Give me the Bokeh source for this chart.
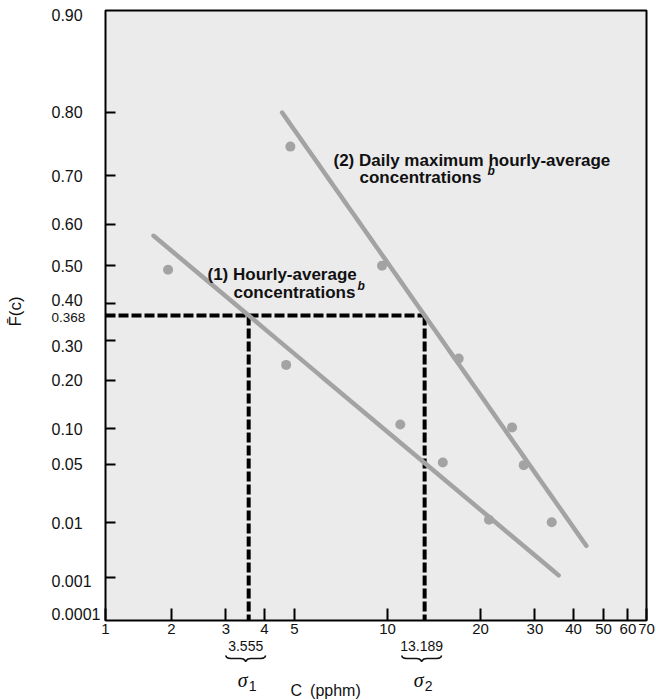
import numpy as np
from bokeh.plotting import figure
from bokeh.models import (Range1d, FixedTicker, Label, PolyAnnotation,
                          BoxAnnotation, LogAxis, LinearAxis)
from bokeh.embed import file_html
from bokeh.resources import INLINE

# Observed exceedance probabilities F̄(c) against concentration c (pphm)
hourly_c = [1.95, 4.7, 11.0, 15.1, 21.3]
hourly_f = [0.49, 0.237, 0.107, 0.052, 0.011]
daily_c = [4.85, 9.6, 17.0, 25.3, 27.6, 34.0]
daily_f = [0.75, 0.50, 0.253, 0.102, 0.049, 0.0101]

# Fitted Weibull distributions  F̄(c) = exp(-(c / sigma) ** k)
sigma = [3.555, 13.189]
sigma_text = ["3.555", "13.189"]
sigma_sub = ["1", "2"]
shape_k = [0.83, 1.41]
fit_from = [1.75, 4.56]
fit_to = [35.8, 44.0]

x_tick_values = [2, 3, 4, 5, 10, 20, 30, 40, 50, 60]
y_tick_labels = ["0.90", "0.80", "0.70", "0.60", "0.50", "0.40", "0.368",
                 "0.30", "0.20", "0.10", "0.05", "0.01", "0.001", "0.0001"]


def paper(f):
    """Weibull probability paper: ln(-ln F̄)."""
    return np.log(-np.log(np.asarray(f, dtype=float)))


# ---- page geometry ----------------------------------------------------------
W, H = 656, 700
X_LO, X_HI = 1.2232, 68.89          # box ends, labelled "1" and "70"
Y_TOP, Y_BOT = -2.25, 2.25          # F̄ = 0.90 along the top of the box
BOX_L, BOX_R, BOX_T, BOX_B = 105, 646, 10, 620
PX_PER_DEC = (BOX_R - BOX_L) / np.log10(X_HI / X_LO)
PX_PER_Y = (BOX_B - BOX_T) / (Y_BOT - Y_TOP)


def cx(px):
    """data x at page pixel column px."""
    return X_LO * 10 ** ((px - BOX_L) / PX_PER_DEC)


def cy(py):
    """data y at page pixel row py."""
    return Y_TOP + (py - BOX_T) / PX_PER_Y


def shift_x(c, px):
    return c * 10 ** (px / PX_PER_DEC)


FONT = "Liberation Sans"
INK = "#111111"
GREY = "#a3a3a3"

p = figure(
    width=W, height=H,
    x_axis_type="log", x_axis_location=None, y_axis_location=None,
    x_range=Range1d(cx(0), cx(W)),
    y_range=Range1d(cy(H), cy(0)),
    min_border=0,
    output_backend="svg", toolbar_location=None,
    background_fill_color="white", border_fill_color="white",
    outline_line_color=None,
)
p.grid.visible = False

# plotting box
p.add_layout(BoxAnnotation(left=X_LO, right=X_HI, top=Y_TOP, bottom=Y_BOT,
                           fill_color="#ebebeb", fill_alpha=1,
                           line_color="black", line_alpha=1, line_width=2,
                           level="underlay"))

# x axis: log concentration along the bottom of the box
xa = LogAxis(fixed_location=Y_BOT)
xa.ticker = FixedTicker(ticks=[X_LO] + x_tick_values + [X_HI])
overrides = {t: str(t) for t in x_tick_values}
overrides[X_LO] = "1"
overrides[X_HI] = "70"
xa.major_label_overrides = overrides
xa.major_label_text_font = FONT
xa.major_label_text_font_size = "15px"
xa.major_label_text_color = INK
xa.major_label_standoff = 3
xa.major_tick_in = 12
xa.major_tick_out = 0
xa.major_tick_line_width = 2
xa.minor_tick_line_color = None
xa.axis_line_color = None
p.add_layout(xa, "below")

# y axis: tick marks on the left edge of the box; labels set flush-left below
tick_vals = [float(t) for t in y_tick_labels]
marked = [v for t, v in zip(y_tick_labels, tick_vals)
          if t not in ("0.90", "0.368", "0.0001")]
ya = LinearAxis(fixed_location=X_LO)
ya.ticker = FixedTicker(ticks=[float(v) for v in paper(marked)])
ya.major_label_overrides = {float(v): "" for v in paper(marked)}
ya.major_tick_in = 10
ya.major_tick_out = 0
ya.major_tick_line_width = 2
ya.minor_tick_line_color = None
ya.axis_line_color = None
p.add_layout(ya, "left")

nudge = {"0.90": 5, "0.40": -4, "0.368": 2, "0.30": 5, "0.001": 4, "0.0001": -2}
for t, v in zip(y_tick_labels, tick_vals):
    y = float(paper(v)) + nudge.get(t, 0) / PX_PER_Y
    p.add_layout(Label(x=cx(51), y=y, text=t, text_font=FONT,
                       text_font_size="13.5px" if t == "0.368" else "16px",
                       text_color=INK, text_align="left", text_baseline="middle"))

p.add_layout(Label(x=cx(15), y=cy(311), text="F\u0304(c)", angle=np.pi / 2,
                   text_font=FONT, text_font_size="17px", text_color=INK,
                   text_align="center", text_baseline="middle"))
p.add_layout(Label(x=cx(290), y=cy(690), text="C\u2002(pphm)",
                   text_font=FONT, text_font_size="16px", text_color=INK,
                   text_align="left", text_baseline="middle"))

# characteristic values: 1/e exceedance level and the two scale parameters
y_e = float(paper(np.exp(-1.0)))
p.line([X_LO, sigma[1]], [y_e, y_e], line_color="black", line_width=4,
       line_dash="10 3")
p.segment(x0=sigma, y0=[y_e] * 2, x1=sigma, y1=[Y_BOT] * 2,
          line_color="black", line_width=4, line_dash="10 3")

# fitted Weibull lines
for s, k, c0, c1 in zip(sigma, shape_k, fit_from, fit_to):
    c = np.geomspace(c0, c1, 60)
    p.line(c, k * np.log(c / s), line_color=GREY, line_width=4.5, line_cap="round")

# observations
p.scatter(hourly_c, paper(hourly_f), size=10, fill_color=GREY, line_color=None)
p.scatter(daily_c, paper(daily_f), size=10, fill_color=GREY, line_color=None)

# series captions
captions = [
    ("(2) Daily maximum hourly-average", 333, 160),
    ("concentrations", 359, 177),
    ("(1) Hourly-average", 207, 274),
    ("concentrations", 233, 292),
]
for text, px, py in captions:
    p.add_layout(Label(x=cx(px), y=cy(py), text=text, text_font=FONT,
                       text_font_size="17px", text_font_style="bold",
                       text_color=INK, text_align="left", text_baseline="alphabetic"))
for px, py in [(487, 170), (357, 285)]:
    p.add_layout(Label(x=cx(px), y=cy(py), text="b", text_font=FONT,
                       text_font_size="12px", text_font_style="bold italic",
                       text_color=INK, text_align="left", text_baseline="alphabetic"))

# sigma values beneath the axis, each with a brace
brace = [(-20, 0), (-19.2, 1.6), (-17.6, 2.6), (-15, 3), (-5, 3), (-2.4, 3.5),
         (-0.9, 4.6), (0, 6), (0.9, 4.6), (2.4, 3.5), (5, 3), (15, 3),
         (17.6, 2.6), (19.2, 1.6), (20, 0)]
for s, st, sub in zip(sigma, sigma_text, sigma_sub):
    p.add_layout(Label(x=shift_x(s, -3), y=cy(645), text=st,
                       text_font=FONT, text_font_size="14px", text_color=INK,
                       text_align="center", text_baseline="middle"))
    path = brace + brace[::-1]
    xs = [shift_x(s, dx - 3) for dx, _ in path]
    ys = [cy(655 + dy) for _, dy in path]
    p.add_layout(PolyAnnotation(xs=xs, ys=ys, fill_alpha=0, line_color=INK,
                                line_alpha=1, line_width=1.6))
    p.add_layout(Label(x=shift_x(s, -6), y=cy(679), text="\u03c3",
                       text_font="Liberation Serif", text_font_size="20px",
                       text_font_style="italic", text_color=INK,
                       text_align="center", text_baseline="alphabetic"))
    p.add_layout(Label(x=shift_x(s, 0), y=cy(685), text=sub,
                       text_font=FONT, text_font_size="14px", text_color=INK,
                       text_align="left", text_baseline="alphabetic"))

open("out.html", "w").write(file_html(p, INLINE))
